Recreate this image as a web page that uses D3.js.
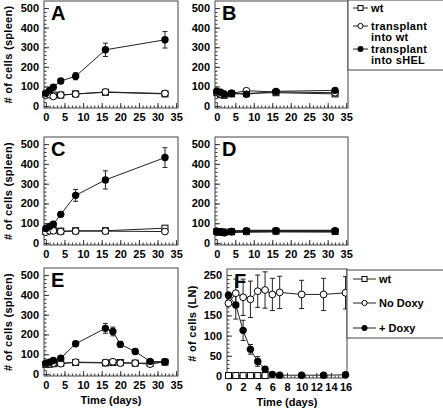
<!DOCTYPE html>
<html><head><meta charset="utf-8">
<script src="https://cdn.jsdelivr.net/npm/d3@7"></script>
<style>
body{margin:0;background:#fff}
svg{display:block}
text{font-family:"Liberation Sans",Arial,Helvetica,sans-serif;font-weight:bold;fill:#000}
</style>
</head><body>
<svg id="c" width="443" height="412"></svg>
<script>
// ---------- data ----------
const spleenDays = [0, 1, 2, 4, 8, 16, 32];
const eDays = [0, 1, 2, 4, 8, 16, 18, 20, 24, 28, 32];
const lnDays = [0, 1, 2, 3, 4, 5, 6, 7, 10, 13, 16];
const lnWtDays = [0, 1, 2, 3, 4, 5];

const spleenXTicks = [0, 5, 10, 15, 20, 25, 30, 35];
const spleenYTicks = [0, 100, 200, 300, 400, 500];
const lnXTicks = [0, 2, 4, 6, 8, 10, 12, 14, 16];
const lnYTicks = [0, 50, 100, 150, 200, 250];

const legend1Labels = ["wt", "transplant\ninto wt", "transplant\ninto sHEL"];
const legend2Labels = ["wt", "No Doxy", "+ Doxy"];

// Panel A
const aWt = [60, 60, 56, 56, 62, 70, 62];
const aTwt = [56, 58, 49, 56, 61, 72, 64];
const aTwtErr = [0, 0, 0, 0, 10, 8, 5];
const aShel = [65, 80, 96, 128, 152, 287, 338];
const aShelErr = [5, 5, 8, 10, 18, 34, 42];
// Panel B
const bWt = [68, 58, 55, 62, 65, 68, 62];
const bTwt = [70, 62, 58, 65, 78, 72, 68];
const bShel = [76, 70, 62, 65, 60, 75, 80];
// Panel C
const cWt = [58, 62, 65, 60, 62, 62, 75];
const cTwt = [55, 62, 62, 58, 60, 60, 58];
const cShel = [74, 84, 95, 145, 241, 319, 432];
const cShelErr = [5, 5, 8, 12, 30, 46, 50];
// Panel D
const dWt = [58, 55, 55, 57, 58, 60, 58];
const dTwt = [55, 55, 54, 57, 58, 60, 60];
const dShel = [58, 57, 52, 58, 62, 62, 62];
// Panel E
const eWt = [48, 50, 52, 55, 58, 56, 58, 58, 55, 55, 60];
const eTwt = [50, 52, 55, 52, 60, 58, 62, 55, 55, 50, 62];
const eShel = [55, 60, 68, 80, 153, 231, 215, 150, 114, 64, 62];
const eShelErr = [5, 5, 5, 8, 12, 25, 22, 15, 12, 8, 5];
// Panel F
const fWt = [1, 1, 1, 1, 1, 1];
const fNoDoxy = [180, 205, 195, 190, 210, 213, 202, 207, 202, 202, 206];
const fNoDoxyErr = [5, 35, 45, 45, 40, 45, 40, 40, 35, 40, 40];
const fDoxy = [200, 176, 113, 66, 36, 17, 4, 2, 2, 2, 3];
const fDoxyErr = [5, 35, 25, 12, 12, 5, 2, 1, 1, 1, 1];

// ---------- drawing ----------
const svg = d3.select('#c');
const LINE = '#222';
const TICKFS = '11px';

function seriesOf(days, vals, errs, type) {
  return days.map((d, i) => ({d, v: vals[i], e: errs ? errs[i] : 0, type}));
}

function drawPanel(p) {
  const x = d3.scaleLinear().domain(p.xDomain).range([p.x0, p.x1]);
  const y = d3.scaleLinear().domain(p.yDomain).range([p.y1, p.y0]);
  const g = svg.append('g');

  // minor ticks
  g.append('g').attr('transform', `translate(0,${p.y1})`)
    .call(d3.axisBottom(x).tickValues(p.xMinor).tickSize(-2.5).tickFormat(''))
    .call(s => s.select('.domain').remove());
  g.append('g').attr('transform', `translate(${p.x0},0)`)
    .call(d3.axisLeft(y).tickValues(p.yMinor).tickSize(-2.5).tickFormat(''))
    .call(s => s.select('.domain').remove());
  // major ticks
  const xa = g.append('g').attr('transform', `translate(0,${p.y1})`)
    .call(d3.axisBottom(x).tickValues(p.xTicks).tickSizeInner(-5).tickSizeOuter(0).tickPadding(5));
  xa.select('.domain').remove();
  xa.selectAll('text').style('font-size', TICKFS).style('font-family', '"Liberation Sans",Arial,sans-serif').style('font-weight', 'bold');
  const ya = g.append('g').attr('transform', `translate(${p.x0},0)`)
    .call(d3.axisLeft(y).tickValues(p.yTicks).tickSizeInner(-5).tickSizeOuter(0).tickPadding(p.yPad || 5));
  ya.select('.domain').remove();
  ya.selectAll('text').style('font-size', TICKFS).style('font-family', '"Liberation Sans",Arial,sans-serif').style('font-weight', 'bold');
  g.selectAll('.tick line').attr('stroke', '#333');

  // frame
  g.append('rect').attr('x', p.x0).attr('y', p.y0)
    .attr('width', p.x1 - p.x0).attr('height', p.y1 - p.y0)
    .attr('fill', 'none').attr('stroke', '#444').attr('stroke-width', 1);

  // letter
  g.append('text').attr('x', p.x0 + 7).attr('y', p.y0 + 19)
    .style('font-size', '20px').text(p.letter);

  // series
  const line = d3.line().x(d => x(d.d)).y(d => y(d.v));
  p.series.forEach(s => {
    g.append('path').datum(s).attr('d', line).attr('fill', 'none')
      .attr('stroke', LINE).attr('stroke-width', p.lw || 1);
  });
  p.series.forEach(s => {
    const eb = s.filter(d => d.e > 0);
    g.selectAll(null).data(eb).enter().append('path')
      .attr('d', d => {
        const cx = x(d.d), t = y(d.v + d.e), b = y(d.v - d.e);
        return `M${cx},${t}V${b}M${cx - 2.5},${t}H${cx + 2.5}M${cx - 2.5},${b}H${cx + 2.5}`;
      })
      .attr('stroke', LINE).attr('stroke-width', 1).attr('fill', 'none');
  });
  p.series.forEach(s => drawMarkers(g, s.map(d => ({cx: x(d.d), cy: y(d.v), type: d.type}))));

  // y title
  if (p.yTitle) {
    g.append('text').attr('transform', `translate(${p.yTitleX},${(p.y0 + p.y1) / 2}) rotate(-90)`)
      .attr('text-anchor', 'middle').style('font-size', '11px').style('letter-spacing', '0.3px').text(p.yTitle);
  }
  if (p.xTitle) {
    g.append('text').attr('x', (p.x0 + p.x1) / 2).attr('y', p.y1 + 28)
      .attr('text-anchor', 'middle').style('font-size', '11px').text(p.xTitle);
  }
}

function drawMarkers(g, pts) {
  pts.forEach(pt => {
    if (pt.type === 'square') {
      g.append('rect').attr('x', pt.cx - 3).attr('y', pt.cy - 3).attr('width', 6).attr('height', 6)
        .attr('fill', '#fff').attr('stroke', '#000').attr('stroke-width', 1);
    } else if (pt.type === 'open') {
      g.append('circle').attr('cx', pt.cx).attr('cy', pt.cy).attr('r', 3.4)
        .attr('fill', '#fff').attr('stroke', '#000').attr('stroke-width', 1);
    } else {
      g.append('circle').attr('cx', pt.cx).attr('cy', pt.cy).attr('r', 3.7)
        .attr('fill', '#000');
    }
  });
}

function drawLegend(box, labels, rowsY) {
  const g = svg.append('g');
  g.append('rect').attr('x', box.x).attr('y', box.y).attr('width', box.w).attr('height', box.h)
    .attr('fill', '#fff').attr('stroke', '#444');
  const types = ['square', 'open', 'filled'];
  labels.forEach((lab, i) => {
    const yy = rowsY[i];
    g.append('line').attr('x1', box.x + box.lx0).attr('x2', box.x + box.lx1)
      .attr('y1', yy).attr('y2', yy).attr('stroke', LINE);
    const cx = box.x + (box.lx0 + box.lx1) / 2;
    if (types[i] === 'square') {
      g.append('rect').attr('x', cx - 2.5).attr('y', yy - 2.5).attr('width', 5).attr('height', 5)
        .attr('fill', '#fff').attr('stroke', '#000');
    } else if (types[i] === 'open') {
      g.append('circle').attr('cx', cx).attr('cy', yy).attr('r', 2.6).attr('fill', '#fff').attr('stroke', '#000');
    } else {
      g.append('circle').attr('cx', cx).attr('cy', yy).attr('r', 3).attr('fill', '#000');
    }
    const t = g.append('text').attr('x', box.x + box.tx).attr('y', yy + 3.5)
      .style('font-size', box.fs + 'px').style('letter-spacing', (box.ls || 0) + 'px');
    lab.split('\n').forEach((ln, k) => {
      t.append('tspan').attr('x', box.x + box.tx).attr('dy', k === 0 ? 0 : box.lh).text(ln);
    });
  });
}

const spleenXMinor = d3.range(0, 36, 1);
const spleenYMinor = d3.range(0, 520, 20);
const spleenXDomain = [-0.5, 35.5];
const spleenYDomain = [-10, 536];

const panels = [
  {letter: 'A', x0: 44, x1: 178, y0: 1, y1: 108, wt: aWt, twt: aTwt, twtErr: aTwtErr, shel: aShel, shelErr: aShelErr, days: spleenDays, yTitle: '# of cells (spleen)'},
  {letter: 'B', x0: 215, x1: 348, y0: 1, y1: 108, wt: bWt, twt: bTwt, shel: bShel, days: spleenDays},
  {letter: 'C', x0: 44, x1: 178, y0: 137, y1: 245, wt: cWt, twt: cTwt, shel: cShel, shelErr: cShelErr, days: spleenDays, yTitle: '# of cells (spleen)'},
  {letter: 'D', x0: 215, x1: 348, y0: 137, y1: 245, wt: dWt, twt: dTwt, shel: dShel, days: spleenDays, lw: 2},
  {letter: 'E', x0: 44, x1: 178, y0: 268, y1: 376, wt: eWt, twt: eTwt, shel: eShel, shelErr: eShelErr, days: eDays, yTitle: '# of cells (spleen)', xTitle: 'Time (days)'}
];
panels.forEach(p => {
  drawPanel({
    letter: p.letter, x0: p.x0, x1: p.x1, y0: p.y0, y1: p.y1, lw: p.lw,
    xDomain: spleenXDomain, yDomain: spleenYDomain,
    xTicks: spleenXTicks, yTicks: spleenYTicks, xMinor: spleenXMinor, yMinor: spleenYMinor,
    yTitle: p.yTitle, yTitleX: 12, xTitle: p.xTitle,
    series: [
      seriesOf(p.days, p.wt, null, 'square'),
      seriesOf(p.days, p.twt, p.twtErr, 'open'),
      seriesOf(p.days, p.shel, p.shelErr, 'filled')
    ]
  });
});

drawPanel({
  letter: 'F', x0: 227, x1: 347, y0: 269, y1: 378,
  xDomain: [-0.2, 16.2], yDomain: [-5, 265],
  xTicks: lnXTicks, yTicks: lnYTicks, xMinor: d3.range(0, 16.5, 0.5), yMinor: d3.range(0, 260, 10),
  yTitle: '# of cells (LN)', yTitleX: 196, xTitle: 'Time (days)',
  series: [
    seriesOf(lnWtDays, fWt, null, 'square'),
    seriesOf(lnDays, fNoDoxy, fNoDoxyErr, 'open'),
    seriesOf(lnDays, fDoxy, fDoxyErr, 'filled')
  ]
});

drawLegend({x: 348, y: 0, w: 96, h: 70, lx0: 5, lx1: 20, tx: 23, fs: 11, lh: 11.5, ls: 0.3}, legend1Labels, [8, 26, 49]);
drawLegend({x: 347, y: 270, w: 97, h: 68, lx0: 6, lx1: 29, tx: 32, fs: 11, lh: 11}, legend2Labels, [279, 303, 328]);
</script>
</body></html>
